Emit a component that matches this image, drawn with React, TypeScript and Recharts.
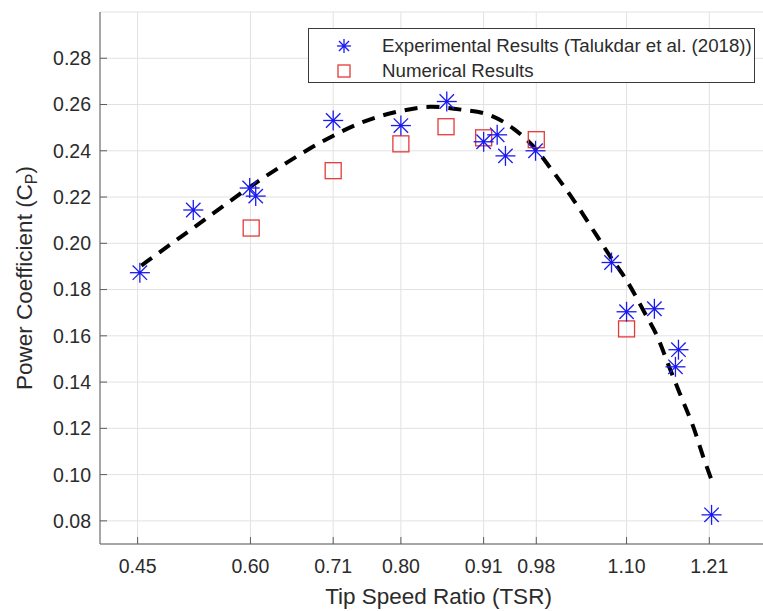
import React from 'react';
import {
  ComposedChart,
  Scatter,
  Line,
  XAxis,
  YAxis,
  CartesianGrid,
  Legend,
  Label,
} from 'recharts';

// measured TSR / Cp from Talukdar et al. (2018)
const expTsr = [0.453, 0.524, 0.599, 0.607, 0.71, 0.8, 0.861, 0.91, 0.928, 0.939, 0.979, 1.08, 1.1, 1.137, 1.169, 1.165, 1.213];
const expCp = [0.1873, 0.2144, 0.2239, 0.2204, 0.2531, 0.2509, 0.2613, 0.2439, 0.2469, 0.2378, 0.24, 0.1917, 0.1704, 0.1717, 0.154, 0.1466, 0.0826];

// CFD results
const numTsr = [0.601, 0.71, 0.8, 0.86, 0.91, 0.98, 1.1];
const numCp = [0.2066, 0.2314, 0.243, 0.2504, 0.2456, 0.2448, 0.163];

// fitted curve through the experimental points
const fitTsr = [0.455, 0.5, 0.55, 0.6, 0.65, 0.7, 0.75, 0.8, 0.84, 0.88, 0.92, 0.95, 0.98, 1.0, 1.03, 1.06, 1.08, 1.1, 1.124, 1.141, 1.157, 1.173, 1.189, 1.202, 1.213];
const fitCp = [0.1904, 0.201, 0.2128, 0.2245, 0.2352, 0.2448, 0.2525, 0.2572, 0.259, 0.2578, 0.2552, 0.2495, 0.2405, 0.232, 0.2185, 0.2035, 0.1935, 0.184, 0.17, 0.1596, 0.1463, 0.1333, 0.1204, 0.1076, 0.0977];

const xTicks = [0.45, 0.6, 0.71, 0.8, 0.91, 0.98, 1.1, 1.21];
const yTicks = [0.08, 0.1, 0.12, 0.14, 0.16, 0.18, 0.2, 0.22, 0.24, 0.26, 0.28];

const FONT = '"Liberation Sans", Arial, Helvetica, sans-serif';
const BLUE = '#1a1aef';
const RED = '#e33a3a';
const TEXT = '#2b2b2b';
const AXIS = '#5c5c5c';

const toPoints = (xs: number[], ys: number[]) => xs.map((x, i) => ({ tsr: x, cp: ys[i] }));

const expData = toPoints(expTsr, expCp);
const numData = toPoints(numTsr, numCp);
const fitData = toPoints(fitTsr, fitCp);

function Asterisk({ cx, cy, r = 10 }: { cx: number; cy: number; r?: number }) {
  const d = r * 0.72;
  return (
    <g stroke={BLUE} strokeWidth={1.3}>
      <line x1={cx - r} y1={cy} x2={cx + r} y2={cy} />
      <line x1={cx} y1={cy - r} x2={cx} y2={cy + r} />
      <line x1={cx - d} y1={cy - d} x2={cx + d} y2={cy + d} />
      <line x1={cx - d} y1={cy + d} x2={cx + d} y2={cy - d} />
      <circle cx={cx} cy={cy} r={1.6} fill={BLUE} stroke="none" />
    </g>
  );
}

function Square({ cx, cy, s = 16 }: { cx: number; cy: number; s?: number }) {
  return <rect x={cx - s / 2} y={cy - s / 2} width={s} height={s} fill="none" stroke={RED} strokeWidth={1.3} />;
}

function LegendBox() {
  const row = (top: number, marker: React.ReactNode, text: string) => (
    <div style={{ position: 'absolute', left: 0, top, height: 24, width: '100%' }}>
      <svg width={30} height={24} style={{ position: 'absolute', left: 20, top: 0 }}>
        {marker}
      </svg>
      <span
        style={{
          position: 'absolute',
          left: 73,
          top: 0,
          fontSize: 18.7,
          lineHeight: '23px',
          color: TEXT,
          whiteSpace: 'nowrap',
        }}
      >
        {text}
      </span>
    </div>
  );
  return (
    <div
      style={{
        position: 'relative',
        width: 447,
        height: 55,
        boxSizing: 'border-box',
        border: '1px solid #3a3a3a',
        background: '#ffffff',
        fontFamily: FONT,
      }}
    >
      {row(5, <Asterisk cx={15} cy={12} r={7} />, 'Experimental Results (Talukdar et al. (2018))')}
      {row(30, <Square cx={15} cy={12} s={12} />, 'Numerical Results')}
    </div>
  );
}

function YTitle(props: any) {
  const vb = props.viewBox || { y: 12, height: 532 };
  const cy = vb.y + vb.height / 2;
  return (
    <text
      x={32}
      y={cy}
      transform={`rotate(-90 32 ${cy})`}
      textAnchor="middle"
      fontSize={22.5}
      fill={TEXT}
      fontFamily={FONT}
    >
      Power Coefficient (C
      <tspan fontSize={16} dy={5}>P</tspan>
      <tspan dy={-5}>)</tspan>
    </text>
  );
}

export default function App() {
  return (
    <div
      style={{
        position: 'fixed',
        left: 0,
        top: 0,
        width: 763,
        height: 611,
        overflow: 'hidden',
        background: '#ffffff',
      }}
    >
      <ComposedChart
        width={777}
        height={611}
        margin={{ top: 12, right: 0, bottom: 7, left: 0 }}
        style={{ fontFamily: FONT }}
      >
        <CartesianGrid stroke="#e2e2e2" strokeWidth={1} />
        <XAxis
          type="number"
          dataKey="tsr"
          domain={[0.4, 1.3]}
          ticks={xTicks}
          allowDataOverflow
          height={60}
          tickSize={-7}
          tickMargin={22}
          tickFormatter={(v: number) => v.toFixed(2)}
          tick={{ fill: TEXT, fontSize: 19.5 }}
          stroke={AXIS}
        >
          <Label
            value="Tip Speed Ratio (TSR)"
            position="insideBottom"
            offset={0}
            fontSize={22.5}
            fill={TEXT}
          />
        </XAxis>
        <YAxis
          type="number"
          dataKey="cp"
          domain={[0.07, 0.3]}
          ticks={yTicks}
          allowDataOverflow
          width={100}
          tickSize={-7}
          tickMargin={16}
          tickFormatter={(v: number) => v.toFixed(2)}
          tick={{ fill: TEXT, fontSize: 19.5 }}
          stroke={AXIS}
        >
          <Label content={<YTitle />} />
        </YAxis>
        <Legend
          layout="vertical"
          align="center"
          verticalAlign="middle"
          wrapperStyle={{ left: 308, top: 28, width: 447, height: 55 }}
          content={() => <LegendBox />}
        />
        <Line
          data={fitData}
          dataKey="cp"
          type="monotone"
          stroke="#000000"
          strokeWidth={4}
          strokeDasharray="13 9"
          dot={false}
          activeDot={false}
          legendType="none"
          isAnimationActive={false}
        />
        <Scatter
          name="Numerical Results"
          data={numData}
          dataKey="cp"
          shape={(p: any) => <Square cx={p.cx} cy={p.cy} />}
          isAnimationActive={false}
        />
        <Scatter
          name="Experimental Results (Talukdar et al. (2018))"
          data={expData}
          dataKey="cp"
          shape={(p: any) => <Asterisk cx={p.cx} cy={p.cy} />}
          isAnimationActive={false}
        />
      </ComposedChart>
    </div>
  );
}
